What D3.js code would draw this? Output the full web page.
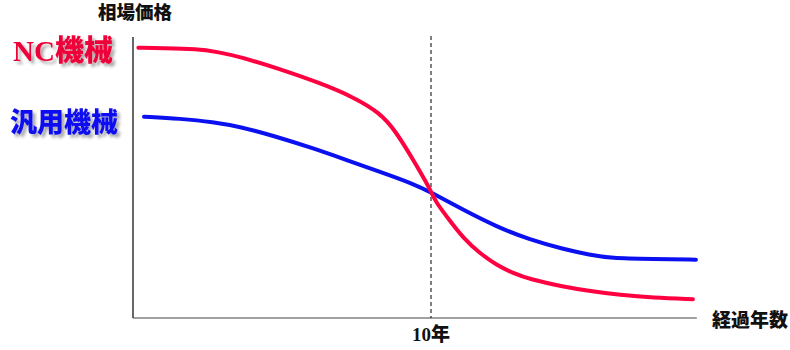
<!DOCTYPE html>
<html><head><meta charset="utf-8">
<script src="https://cdn.jsdelivr.net/npm/d3@7"></script>
<style>body{margin:0;background:#fff}svg{display:block}</style>
</head><body>
<svg id="c" width="790" height="350"></svg>
<script>
const ncYears   = [0.18, 1.02, 2.14, 2.81, 3.59, 4.9, 6.28, 7.38, 8.29, 8.79, 9.41, 9.86, 10.02, 10.19, 10.53, 11.08, 11.64, 12.20, 12.76, 13.32, 14.44, 15.34, 16.34, 17.45, 18.79];
const ncPrice   = [96.5, 96.4, 96.1, 95.1, 93.3, 89.0, 83.9, 79.0, 73.2, 67.1, 56.4, 48.1, 44.6, 41.0, 36.2, 28.5, 23.1, 18.9, 16.0, 13.8, 11.2, 9.6, 8.2, 7.2, 6.7];
const genYears  = [0.37, 1.58, 2.70, 3.59, 4.74, 6.05, 7.17, 8.29, 9.41, 10.02, 11.08, 12.20, 13.32, 14.44, 15.34, 16.01, 17.45, 18.89];
const genPrice  = [71.9, 71.2, 70.0, 68.3, 65.0, 60.6, 56.4, 52.2, 47.9, 44.8, 38.6, 32.6, 27.9, 24.6, 22.5, 21.4, 21.1, 20.8];
const seriesNames = ["NC機械", "汎用機械"];
const markYear = 10;
const markLabel = "10年";
const yTitle = "相場価格";
const xTitle = "経過年数";

const svg = d3.select("#c");
const x = d3.scaleLinear().domain([0, 10]).range([133, 431]);
const y = d3.scaleLinear().domain([0, 100]).range([318, 38]);

const defs = svg.append("defs");
const f = defs.append("filter").attr("id","sh").attr("x","-20%").attr("y","-20%").attr("width","140%").attr("height","160%");
f.append("feDropShadow").attr("dx",3).attr("dy",3).attr("stdDeviation",1.8).attr("flood-color","#000").attr("flood-opacity",0.35);

// axes
svg.append("line").attr("x1", x(0)).attr("x2", x(0)).attr("y1", 37).attr("y2", y(0)).attr("stroke","#000").attr("stroke-width",1.2);
svg.append("line").attr("x1", x(0)).attr("x2", x(18.92)).attr("y1", y(0)).attr("y2", y(0)).attr("stroke","#444").attr("stroke-width",1.2);
svg.append("line").attr("x1", x(markYear)).attr("x2", x(markYear)).attr("y1", 36).attr("y2", y(0))
  .attr("stroke","#000").attr("stroke-width",1).attr("stroke-dasharray","4,3");

const line = d3.line().x(d=>x(d[0])).y(d=>y(d[1])).curve(d3.curveBasis);
svg.append("path").datum(genYears.map((v,i)=>[v,genPrice[i]])).attr("d",line)
  .attr("fill","none").attr("stroke","#0a10f0").attr("stroke-width",4).attr("stroke-linecap","round");
svg.append("path").datum(ncYears.map((v,i)=>[v,ncPrice[i]])).attr("d",line)
  .attr("fill","none").attr("stroke","#ff0040").attr("stroke-width",4).attr("stroke-linecap","round");

const bold = "'Liberation Serif','Noto Sans CJK JP',serif";
svg.append("text").attr("x",135).attr("y",19).attr("text-anchor","middle")
  .attr("font-family",bold).attr("font-weight",900).attr("font-size",18.5).attr("fill","#111").text(yTitle);
svg.append("text").attr("x",750).attr("y",327).attr("text-anchor","middle")
  .attr("font-family",bold).attr("font-weight",900).attr("font-size",19).attr("fill","#111").text(xTitle);
svg.append("text").attr("x",x(markYear)).attr("y",341).attr("text-anchor","middle")
  .attr("font-family",bold).attr("font-weight",900).attr("font-size",19).attr("fill","#111").text(markLabel);

svg.append("text").attr("x",63).attr("y",61).attr("text-anchor","middle").attr("filter","url(#sh)")
  .attr("font-family",bold).attr("font-weight",900).attr("font-size",29).attr("fill","#ee0038").text(seriesNames[0]);
svg.append("text").attr("x",64).attr("y",132).attr("text-anchor","middle").attr("filter","url(#sh)")
  .attr("font-family",bold).attr("font-weight",900).attr("font-size",27).attr("fill","#1010f0").text(seriesNames[1]);
</script>
</body></html>
